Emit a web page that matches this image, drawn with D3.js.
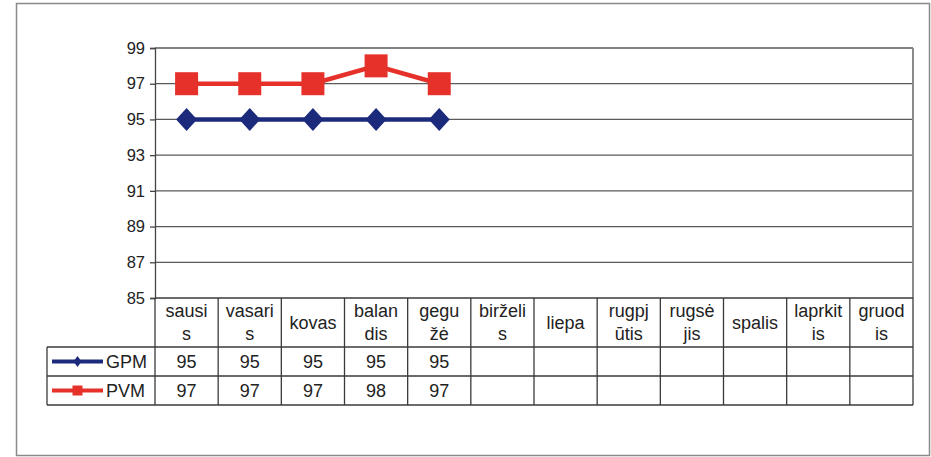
<!DOCTYPE html>
<html>
<head>
<meta charset="utf-8">
<script src="https://cdn.jsdelivr.net/npm/d3@7"></script>
<style>
  body { margin: 0; background: #fff; }
  svg { display: block; font-family: 'Liberation Sans', Arial, sans-serif; }
</style>
</head>
<body>
<div id="chart"></div>
<script>
// data
var months = [['sausi','s'], ['vasari','s'], ['kovas'], ['balan','dis'], ['gegu','žė'],
  ['birželi','s'], ['liepa'], ['rugpj','ūtis'], ['rugsė','jis'], ['spalis'],
  ['laprkit','is'], ['gruod','is']];
var seriesNames = ['GPM', 'PVM'];
var gpm = [95, 95, 95, 95, 95];
var pvm = [97, 97, 97, 98, 97];
var yTicks = [85, 87, 89, 91, 93, 95, 97, 99];

var series = [
  { name: seriesNames[0], values: gpm, color: '#1c2a7c', marker: 'diamond' },
  { name: seriesNames[1], values: pvm, color: '#e5312a', marker: 'square' }
];

// setup SVG
var width = 931, height = 457;
var svg = d3.select('#chart').append('svg')
    .attr('width', width).attr('height', height);

// outer frame
svg.append('rect')
    .attr('x', 16.5).attr('y', 3.5).attr('width', 913).attr('height', 452)
    .attr('fill', 'none').attr('stroke', '#8a8a8a').attr('stroke-width', 1.5);

// plot area bounds
var pLeft = 155, pRight = 913, pTop = 48, pBottom = 298;
var x = d3.scaleBand().domain(d3.range(months.length)).range([pLeft, pRight]);
var y = d3.scaleLinear().domain([85, 99]).range([pBottom, pTop]);

// gridlines
svg.append('g').selectAll('line')
    .data(yTicks.filter(function(d) { return d > 85; }))
    .enter().append('line')
    .attr('x1', pLeft).attr('x2', pRight)
    .attr('y1', function(d) { return y(d); }).attr('y2', function(d) { return y(d); })
    .attr('stroke', '#5a5a5a').attr('stroke-width', 1.3);

// right edge of plot
svg.append('line')
    .attr('x1', pRight).attr('x2', pRight).attr('y1', pTop).attr('y2', pBottom)
    .attr('stroke', '#8a8a8a').attr('stroke-width', 2);

// y axis
var yAxis = svg.append('g')
    .attr('transform', 'translate(' + pLeft + ',0)')
    .call(d3.axisLeft(y).tickValues(yTicks).tickSize(5).tickPadding(5));
yAxis.select('.domain').attr('stroke', '#444').attr('stroke-width', 1.3);
yAxis.selectAll('.tick line').attr('stroke', '#444').attr('stroke-width', 1.3);
yAxis.selectAll('text')
    .attr('font-size', '16.5px').attr('fill', '#222')
    .attr('font-family', "'Liberation Sans', Arial, sans-serif");

// lines
var line = d3.line()
    .x(function(d, i) { return x(i) + x.bandwidth() / 2; })
    .y(function(d) { return y(d); });

var sg = svg.selectAll('g.series')
    .data(series).enter().append('g').attr('class', 'series');

sg.append('path')
    .attr('d', function(d) { return line(d.values); })
    .attr('fill', 'none')
    .attr('stroke', function(d) { return d.color; })
    .attr('stroke-width', 4.5);

// markers
sg.each(function(s) {
    var g = d3.select(this);
    g.selectAll('path.m')
        .data(s.values).enter().append('path')
        .attr('class', 'm')
        .attr('transform', function(d, i) {
            return 'translate(' + (x(i) + x.bandwidth() / 2) + ',' + y(d) + ')';
        })
        .attr('d', s.marker == 'square' ? 'M-11.5,-11.5H11.5V11.5H-11.5Z' : 'M0,-11.5L10.5,0L0,11.5L-10.5,0Z')
        .attr('fill', s.color);
});

// data table
var rowTop = [298, 347, 376, 405];
var legendLeft = 47;
var tbl = svg.append('g').attr('stroke', '#3a3a3a').attr('stroke-width', 1.3);

// horizontal lines
tbl.append('line').attr('x1', pLeft).attr('x2', pRight).attr('y1', rowTop[0]).attr('y2', rowTop[0]);
rowTop.slice(1).forEach(function(r) {
    tbl.append('line').attr('x1', legendLeft).attr('x2', pRight).attr('y1', r).attr('y2', r);
});
// vertical lines
d3.range(months.length + 1).forEach(function(i) {
    var xx = i < months.length ? x(i) : pRight;
    tbl.append('line').attr('x1', xx).attr('x2', xx).attr('y1', rowTop[0]).attr('y2', rowTop[3]);
});
tbl.append('line').attr('x1', legendLeft).attr('x2', legendLeft).attr('y1', rowTop[1]).attr('y2', rowTop[3]);

// header labels
var hdr = svg.append('g').selectAll('text')
    .data(months).enter().append('text')
    .attr('text-anchor', 'middle')
    .attr('font-size', '18px').attr('fill', '#222')
    .attr('x', function(d, i) { return x(i) + x.bandwidth() / 2; })
    .attr('y', function(d) { return d.length == 1 ? 329 : 317; });
hdr.selectAll('tspan')
    .data(function(d) { return d; })
    .enter().append('tspan')
    .attr('x', function() { return d3.select(this.parentNode).attr('x'); })
    .attr('dy', function(d, i) { return i == 0 ? 0 : 23; })
    .text(function(d) { return d; });

// series rows
series.forEach(function(s, r) {
    var cy = (rowTop[r + 1] + rowTop[r + 2]) / 2;
    svg.append('line')
        .attr('x1', 52).attr('x2', 103).attr('y1', cy).attr('y2', cy)
        .attr('stroke', s.color).attr('stroke-width', 4);
    svg.append('path')
        .attr('transform', 'translate(77.5,' + cy + ')')
        .attr('d', s.marker == 'square' ? 'M-5,-5H5V5H-5Z' : 'M0,-5.5L4,0L0,5.5L-4,0Z')
        .attr('fill', s.color);
    svg.append('text')
        .attr('x', 106).attr('y', cy + 6.5)
        .attr('font-size', '18px').attr('fill', '#222')
        .text(s.name);
    svg.append('g').selectAll('text')
        .data(s.values).enter().append('text')
        .attr('text-anchor', 'middle')
        .attr('font-size', '18px').attr('fill', '#222')
        .attr('x', function(d, i) { return x(i) + x.bandwidth() / 2; })
        .attr('y', cy + 6.5)
        .text(function(d) { return d; });
});
</script>
</body>
</html>
